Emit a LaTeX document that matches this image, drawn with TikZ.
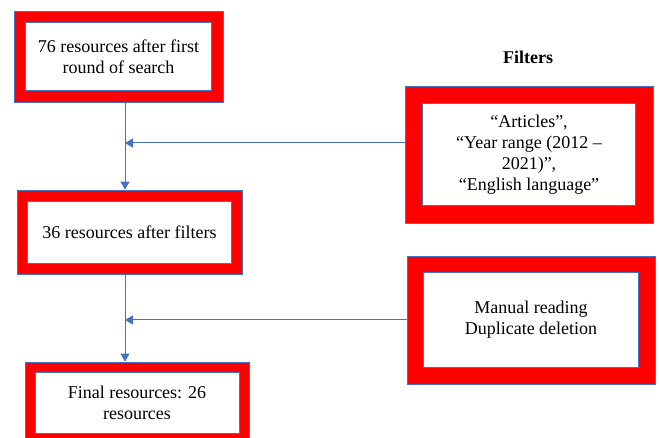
\documentclass[tikz,border=0pt]{standalone}
\usepackage{fontspec}
\setmainfont{Liberation Serif}
\usetikzlibrary{arrows.meta,positioning,calc}
\definecolor{lineblue}{HTML}{4472C4}
\tikzset{
outerbox/.style={draw=lineblue, line width=0.8pt, fill=red, inner sep=0pt},
innerbox/.style={draw=lineblue, line width=0.8pt, fill=white, align=center, inner sep=0pt,
  font=\fontsize{18}{21}\selectfont},
flow/.style={draw=lineblue, line width=1pt, -{Triangle[length=8pt,width=9pt]}}
}
\begin{document}
\begin{tikzpicture}[x=1pt,y=-1pt]
\useasboundingbox (0,0) rectangle (659,438);
% left column
\node[outerbox, minimum width=209pt, minimum height=91pt] (searcho) at (118.5,56.5) {};
\node[innerbox, minimum width=186pt, minimum height=68pt] (search) at (searcho) {76 resources after first\\round of search};
\node[outerbox, minimum width=225pt, minimum height=84pt] (filteredo) at (129.5,232) {};
\node[innerbox, minimum width=204pt, minimum height=62pt] (filtered) at (filteredo) {36 resources after filters};
\node[outerbox, minimum width=224pt, minimum height=81pt] (finalo) at (137,402.5) {};
\node[innerbox, minimum width=204pt, minimum height=61pt] (final) at (finalo) {Final resources: 26\\resources};
% right column
\node[font=\bfseries\fontsize{18}{21}\selectfont] (ftitle) at (528,57) {Filters};
\node[outerbox, minimum width=248pt, minimum height=137pt] (filterso) at (529,154.5) {};
\node[innerbox, minimum width=213pt, minimum height=102pt] (filters) at (filterso) {“Articles”,\\“Year range (2012 –\\2021)”,\\“English language”};
\node[outerbox, minimum width=248pt, minimum height=128pt] (manualo) at (531,320) {};
\node[innerbox, minimum width=215pt, minimum height=95pt] (manual) at (manualo) {Manual reading\\Duplicate deletion};
% connectors
\coordinate (j1) at (125,143);
\coordinate (j2) at (125,320);
\draw[lineblue, line width=1pt] (searcho.south -| j1) -- (j1);
\draw[flow] (j1) -- (filteredo.north -| j1);
\draw[flow] (filterso.west |- j1) -- (j1);
\draw[lineblue, line width=1pt] (filteredo.south -| j2) -- (j2);
\draw[flow] (j2) -- (finalo.north -| j2);
\draw[flow] (manualo.west |- j2) -- (j2);
\end{tikzpicture}
\end{document}
